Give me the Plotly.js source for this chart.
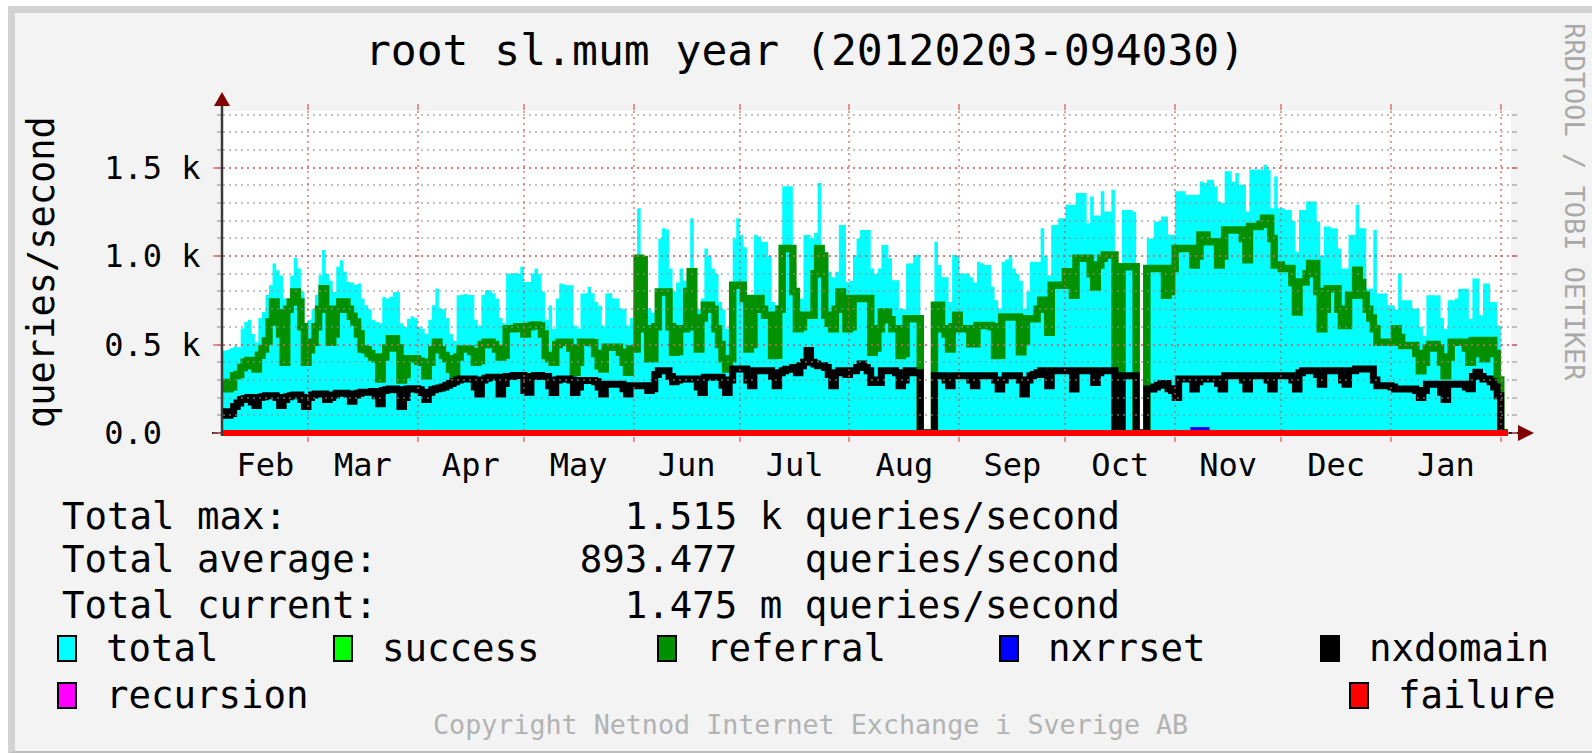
<!DOCTYPE html>
<html>
<head>
<meta charset="utf-8">
<script src="https://cdn.plot.ly/plotly-3.0.1.min.js"></script>
<style>
  html, body { margin: 0; padding: 0; background: #ffffff; }
  #frame { position: absolute; left: 8px; top: 6px; width: 1584px; height: 747px; box-sizing: border-box;
           background: #f3f3f3; border-left: 7px solid #d2d2d2; border-top: 7px solid #d2d2d2; border-bottom: 2px solid #bdbdbd; }
  #chart { position: absolute; left: 0; top: 0; width: 1592px; height: 753px; }
</style>
</head>
<body>
<div id="frame"></div>
<div id="chart"></div>
<script>
// ---------------- data (one value per day, starting 2011-02-05) ----------------
const startDate = '2011-02-05';
const rangeEnd = '2012-02-03 21:36';

const total = [
  466, 470, 480, 490, 485, 590, 627,
  640, 560, 513, 650, 684, 780, 835,
  958, 920, 890, 760, 700, 890, 990,
  930, 800, 560, 640, 700, 780, 892,
  1034, 900, 860, 797, 940, 977, 911,
  854, 850, 840, 845, 760, 722, 700,
  640, 627, 620, 769, 760, 770, 797,
  797, 620, 600, 646, 660, 650, 600,
  589, 560, 640, 722, 816, 703, 700,
  650, 560, 520, 778, 780, 785, 780,
  780, 640, 608, 780, 807, 807, 790,
  760, 650, 620, 901, 900, 905, 900,
  939, 854, 854, 901, 930, 900, 800,
  640, 720, 589, 760, 845, 840, 835,
  835, 608, 589, 788, 790, 826, 790,
  740, 720, 608, 788, 790, 760, 760,
  703, 700, 608, 650, 740, 1271, 854,
  854, 703, 680, 720, 1100, 1157, 1150,
  930, 800, 850, 930, 860, 850, 1214,
  740, 700, 760, 1043, 1000, 930, 900,
  740, 700, 589, 600, 1100, 1214, 1119,
  1050, 665, 700, 1119, 1110, 1081, 1081,
  1000, 740, 720, 760, 1394, 1394, 1394,
  854, 800, 760, 1119, 1119, 1100, 1130,
  1413, 1043, 1000, 911, 880, 911, 1176,
  1176, 854, 860, 1006, 1100, 1148, 1148,
  1148, 930, 900, 930, 1062, 1062, 987,
  864, 864, 703, 700, 958, 960, 1006,
  1006, 0, 0, 0, 0, 1081, 949,
  882, 880, 740, 1006, 1000, 901, 901,
  901, 880, 850, 968, 960, 949, 949,
  826, 750, 703, 968, 980, 1006, 930,
  900, 860, 703, 800, 968, 968, 968,
  1157, 1000, 892, 1176, 1176, 1214, 1214,
  1290, 1290, 1290, 1356, 1356, 1356, 1186,
  1337, 1230, 1230, 1366, 1252, 1252, 1375,
  0, 0, 1261, 1261, 1261, 1250, 0,
  0, 0, 1100, 1100, 1195, 1195, 1224,
  1224, 1120, 1120, 1366, 1366, 1366, 1347,
  1347, 1347, 1347, 1422, 1413, 1432, 1432,
  1394, 1309, 1300, 1479, 1479, 1420, 1470,
  1403, 1403, 1252, 1489, 1489, 1489, 1489,
  1515, 1489, 1271, 1450, 1271, 1271, 1261,
  1261, 1200, 1025, 1261, 1261, 1309, 1309,
  1309, 1195, 1000, 1167, 1167, 1157, 1157,
  1043, 930, 930, 1119, 1119, 1290, 1157,
  1157, 816, 816, 1148, 788, 788, 788,
  722, 722, 700, 901, 750, 750, 750,
  703, 703, 600, 550, 778, 778, 778,
  778, 650, 589, 750, 750, 760, 816,
  816, 816, 645, 873, 873, 665, 845,
  845, 740, 740, 608, 0, 0, 0
];

const referral = [
  286, 250, 260, 324, 330, 370, 400,
  410, 380, 362, 440, 475, 520, 627,
  740, 680, 560, 400, 700, 740, 797,
  740, 600, 400, 470, 513, 600, 700,
  816, 700, 513, 560, 700, 740, 740,
  700, 660, 627, 560, 475, 470, 450,
  430, 419, 305, 430, 480, 532, 532,
  480, 300, 330, 419, 420, 419, 405,
  400, 324, 400, 470, 513, 470, 438,
  420, 360, 324, 430, 475, 475, 475,
  460, 400, 410, 500, 513, 513, 500,
  475, 430, 440, 589, 589, 590, 600,
  600, 560, 600, 608, 610, 605, 560,
  438, 420, 400, 500, 513, 513, 513,
  480, 343, 400, 513, 513, 513, 510,
  450, 380, 362, 485, 485, 485, 485,
  456, 400, 343, 475, 475, 987, 980,
  589, 419, 419, 600, 797, 797, 797,
  600, 456, 460, 589, 589, 800, 911,
  600, 475, 650, 722, 722, 700, 589,
  500, 420, 362, 420, 835, 835, 835,
  760, 475, 500, 760, 760, 700, 665,
  665, 438, 440, 700, 1043, 1043, 1043,
  800, 589, 600, 665, 665, 665, 900,
  1043, 1000, 665, 620, 589, 700, 797,
  760, 589, 600, 760, 760, 760, 760,
  760, 456, 480, 589, 684, 684, 640,
  589, 589, 438, 450, 646, 646, 646,
  646, 0, 0, 0, 0, 722, 722,
  589, 560, 475, 600, 665, 589, 589,
  589, 504, 504, 608, 608, 608, 608,
  600, 438, 440, 655, 655, 655, 655,
  655, 459, 520, 646, 646, 646, 700,
  750, 750, 570, 835, 835, 835, 835,
  911, 911, 778, 987, 987, 987, 987,
  900, 825, 950, 987, 1006, 1006, 1006,
  0, 0, 939, 939, 939, 939, 0,
  0, 0, 930, 930, 930, 930, 930,
  778, 800, 930, 1043, 1043, 1043, 1043,
  1043, 949, 1000, 1119, 1119, 1081, 1081,
  1081, 949, 1000, 1148, 1148, 1148, 1148,
  1148, 1100, 979, 1167, 1167, 1167, 1180,
  1214, 1214, 1100, 949, 949, 930, 930,
  930, 850, 684, 854, 854, 900, 958,
  958, 800, 589, 700, 816, 816, 816,
  700, 608, 608, 778, 778, 920, 850,
  778, 700, 650, 589, 513, 513, 513,
  513, 513, 589, 540, 494, 494, 494,
  494, 450, 352, 400, 480, 500, 500,
  480, 400, 324, 430, 513, 513, 513,
  513, 480, 400, 523, 523, 450, 420,
  523, 523, 450, 300, 0, 0, 0
];

const nxdomain = [
  120, 100, 110, 150, 170, 190, 195,
  200, 175, 155, 200, 205, 210, 210,
  210, 200, 155, 190, 205, 210, 215,
  215, 190, 150, 200, 215, 220, 220,
  220, 190, 200, 215, 225, 225, 225,
  220, 180, 215, 225, 230, 230, 230,
  235, 210, 165, 240, 245, 248, 248,
  245, 150, 200, 248, 250, 250, 245,
  229, 190, 230, 245, 250, 255, 260,
  270, 280, 290, 300, 305, 305, 305,
  305, 260, 220, 300, 310, 315, 315,
  315, 220, 280, 320, 320, 325, 325,
  325, 240, 230, 320, 325, 325, 320,
  320, 267, 229, 300, 305, 305, 305,
  300, 229, 260, 296, 296, 296, 296,
  290, 260, 220, 276, 276, 276, 276,
  276, 250, 220, 267, 267, 267, 267,
  267, 240, 250, 330, 352, 352, 352,
  320, 290, 300, 305, 305, 305, 305,
  305, 260, 229, 315, 315, 315, 315,
  315, 270, 229, 300, 362, 362, 362,
  362, 300, 267, 352, 352, 352, 352,
  352, 320, 267, 340, 352, 360, 360,
  370, 340, 380, 400, 466, 400, 390,
  380, 380, 370, 330, 267, 340, 352,
  352, 330, 352, 352, 370, 390, 370,
  352, 286, 300, 286, 352, 352, 352,
  352, 340, 267, 300, 352, 352, 340,
  340, 0, 0, 0, 0, 324, 324,
  324, 300, 267, 324, 324, 324, 324,
  324, 300, 267, 324, 324, 324, 324,
  324, 300, 248, 300, 324, 324, 324,
  324, 300, 220, 300, 324, 330, 340,
  352, 330, 267, 352, 352, 352, 352,
  352, 352, 248, 352, 352, 352, 352,
  352, 286, 340, 352, 352, 352, 352,
  0, 0, 324, 324, 324, 324, 0,
  0, 0, 248, 248, 260, 270, 280,
  280, 250, 240, 200, 305, 305, 305,
  305, 248, 290, 305, 305, 305, 305,
  305, 280, 248, 324, 324, 324, 324,
  324, 300, 248, 324, 324, 324, 324,
  324, 300, 248, 324, 324, 324, 324,
  324, 300, 248, 340, 352, 352, 352,
  352, 330, 276, 352, 352, 352, 352,
  352, 300, 276, 352, 352, 362, 362,
  362, 362, 362, 300, 267, 267, 267,
  267, 260, 248, 248, 248, 248, 248,
  248, 240, 200, 240, 276, 276, 276,
  276, 230, 190, 276, 276, 276, 276,
  276, 260, 250, 320, 343, 320, 305,
  305, 290, 260, 210, 0, 0, 0
];

const nxrrset = [
  0,0,0,0,0,0,0, 0,0,0,0,0,0,0, 0,0,0,0,0,0,0, 0,0,0,0,0,0,0,
  0,0,0,0,0,0,0, 0,0,0,0,0,0,0, 0,0,0,0,0,0,0, 0,0,0,0,0,0,0,
  0,0,0,0,0,0,0, 0,0,0,0,0,0,0, 0,0,0,0,0,0,0, 0,0,0,0,0,0,0,
  0,0,0,0,0,0,0, 0,0,0,0,0,0,0, 0,0,0,0,0,0,0, 0,0,0,0,0,0,0,
  0,0,0,0,0,0,0, 0,0,0,0,0,0,0, 0,0,0,0,0,0,0, 0,0,0,0,0,0,0,
  0,0,0,0,0,0,0, 0,0,0,0,0,0,0, 0,0,0,0,0,0,0, 0,0,0,0,0,0,0,
  0,0,0,0,0,0,0, 0,0,0,0,0,0,0, 0,0,0,0,0,0,0, 0,0,0,0,0,0,0,
  0,0,0,0,0,0,0, 0,0,0,0,0,0,0, 0,0,0,0,0,0,0, 0,0,0,0,0,0,0,
  0,0,0,0,0,0,0, 0,0,0,0,0,0,0, 0,0,0,0,0,0,0, 0,0,0,0,0,0,0,
  0,0,0,0,0,0,0, 0,0,0,0,0,0,0, 0,0,0,0,0,0,0, 0,20,20,20,20,0,0,
  0,0,0,0,0,0,0, 0,0,0,0,0,0,0, 0,0,0,0,0,0,0, 0,0,0,0,0,0,0,
  0,0,0,0,0,0,0, 0,0,0,0,0,0,0, 0,0,0,0,0,0,0, 0,0,0,0,0,0,0,
  0,0,0,0,0,0,0, 0,0,0,0,0,0,0, 0,0,0,0,0,0,0, 0,0,0,0,0,0,0
];

const failure = [
  0,0,0,0,0,0,0, 0,0,0,0,0,0,0, 0,0,0,0,0,0,0, 0,0,0,0,0,0,0,
  0,0,0,0,0,0,0, 0,0,0,0,0,0,0, 0,0,0,0,0,0,0, 0,0,0,0,0,0,0,
  0,0,0,0,0,0,0, 0,0,0,0,0,0,0, 0,0,0,0,0,0,0, 0,0,0,0,0,0,0,
  0,0,0,0,0,0,0, 0,0,0,0,0,0,0, 0,0,0,0,0,0,0, 0,0,0,0,0,0,0,
  0,0,0,0,0,0,0, 0,0,0,0,0,0,0, 0,0,0,0,0,0,0, 0,0,0,0,0,0,0,
  0,0,0,0,0,0,0, 0,0,0,0,0,0,0, 0,0,0,0,0,0,0, 0,0,0,0,0,0,0,
  0,0,0,0,0,0,0, 0,0,0,0,0,0,0, 0,0,0,0,0,0,0, 0,0,0,0,0,0,0,
  0,0,0,0,0,0,0, 0,0,0,0,0,0,0, 0,0,0,0,0,0,0, 0,0,0,0,0,0,0,
  0,0,0,0,0,0,0, 0,0,0,0,0,0,0, 0,0,0,0,0,0,0, 0,0,0,0,0,0,0,
  0,0,0,0,0,0,0, 0,0,0,0,0,0,0, 0,0,0,0,0,0,0, 0,0,0,0,0,0,0,
  0,0,0,0,0,0,0, 0,0,0,0,0,0,0, 0,0,0,0,0,0,0, 0,0,0,0,0,0,0,
  0,0,0,0,0,0,0, 0,0,0,0,0,0,0, 0,0,0,0,0,0,0, 0,0,0,0,0,0,0,
  0,0,0,0,0,0,0, 0,0,0,0,0,0,0, 0,0,0,0,0,0,0, 0,0,0,0,0,0,0
];

const monthStarts = ['2011-03-01','2011-04-01','2011-05-01','2011-06-01','2011-07-01','2011-08-01',
                     '2011-09-01','2011-10-01','2011-11-01','2011-12-01','2012-01-01','2012-02-01'];
const monthLabels = ['Feb','Mar','Apr','May','Jun','Jul','Aug','Sep','Oct','Nov','Dec','Jan'];

const yTickVals = [0, 500, 1000, 1500];
const yTickText = ['0.0\u00a0\u00a0', '0.5 k', '1.0 k', '1.5 k'];
const yMinorStep = 100;
const yMin = -17;      // a little room below zero so the thick zero-level line is not clipped
const yMax = 1820;

const titleText = 'root sl.mum year (20120203-094030)';
const yTitle = 'queries/second';
const statLabels = ['Total max:', 'Total average:', 'Total current:'];
const statValues = ['1.515', '893.477', '1.475'];
const statUnits  = ['k', ' ', 'm'];
const statUnitText = 'queries/second';
const legendNames  = ['total', 'success', 'referral', 'nxrrset', 'nxdomain', 'recursion', 'failure'];
const legendColors = ['#00ffff', '#00ff00', '#009000', '#0000ff', '#000000', '#ff00ff', '#ff0000'];
const copyrightText = 'Copyright Netnod Internet Exchange i Sverige AB';
const sideText = 'RRDTOOL / TOBI OETIKER';

// ---------------- helpers ----------------
function addDays(s, n) {
  const d = new Date(s + 'T00:00:00Z');
  d.setUTCDate(d.getUTCDate() + n);
  return d.toISOString().slice(0, 10);
}
const days = total.map((_, i) => addDays(startDate, i));
const toMs = s => new Date(s.replace(' ', 'T') + (s.length > 10 ? ':00Z' : 'T00:00:00Z')).getTime();
const bounds = [startDate].concat(monthStarts);
const labelPos = monthLabels.map((_, i) => {
  const m = (toMs(bounds[i]) + toMs(bounds[i + 1])) / 2;
  return new Date(m).toISOString().replace('T', ' ').slice(0, 19);
});

// layout geometry in pixels
const L = 223, T = 111, W = 1288, H = 325;
const px = p => (p - L) / W;
const py = p => (T + H - p) / H;
const NB = '\u00a0';
const FONT = 'DejaVu Sans Mono, monospace';

// ---------------- traces ----------------
const traces = [
  { x: days, y: total, type: 'scatter', mode: 'lines', line: { shape: 'hv', width: 0, color: '#00ffff' },
    fill: 'tozeroy', fillcolor: '#00ffff', hoverinfo: 'skip' },
  { x: days, y: referral, type: 'scatter', mode: 'lines', line: { shape: 'hv', width: 7.5, color: '#009000' }, hoverinfo: 'skip' },
  { x: days, y: nxrrset, type: 'scatter', mode: 'lines', line: { shape: 'hv', width: 5, color: '#0000ff' }, hoverinfo: 'skip' },
  { x: days, y: nxdomain, type: 'scatter', mode: 'lines', line: { shape: 'hv', width: 7, color: '#000000' }, hoverinfo: 'skip' },
  // failure is drawn on the overlay subplot so it lies above the grid, as in RRDtool
  { x: days, y: failure, type: 'scatter', mode: 'lines', xaxis: 'x2', yaxis: 'y2',
    line: { shape: 'hv', width: 6, color: '#ff0000' }, hoverinfo: 'skip' }
];

// ---------------- annotations ----------------
const ann = [];
ann.push({ text: yTitle, xref: 'paper', yref: 'paper', x: px(41), y: py(272), textangle: -90,
           showarrow: false, xanchor: 'center', yanchor: 'middle', font: { family: FONT, size: 37, color: '#000' } });
ann.push({ text: sideText, xref: 'paper', yref: 'paper', x: px(1575), y: py(202), textangle: 90,
           showarrow: false, xanchor: 'center', yanchor: 'middle', borderpad: 0,
           font: { family: FONT, size: 27, color: '#a9a9a9' } });
const statY = [516, 559, 605];
statLabels.forEach((lab, i) => {
  const s = (lab + NB.repeat(23 - lab.length)) + statValues[i].padStart(7, NB) + NB +
            statUnits[i].replace(' ', NB) + NB + statUnitText;
  ann.push({ text: s.replace(/ /g, NB), xref: 'paper', yref: 'paper', x: px(60), y: py(statY[i]),
             showarrow: false, xanchor: 'left', yanchor: 'middle', font: { family: FONT, size: 37.4, color: '#000' } });
});
const legTextX = [107, 383, 707, 1049, 1370, 107, 1399];
const legRowY  = [648, 648, 648, 648, 648, 695, 695];
const shapes = [];
// white canvas behind the data
shapes.push({ type: 'rect', xref: 'paper', yref: 'paper', x0: 0, x1: 1, y0: py(433), y1: 1, layer: 'below',
              fillcolor: '#ffffff', line: { width: 0 } });
legendNames.forEach((n, i) => {
  ann.push({ text: n, xref: 'paper', yref: 'paper', x: px(legTextX[i] - 3), y: py(legRowY[i]),
             showarrow: false, xanchor: 'left', yanchor: 'middle', font: { family: FONT, size: 37.4, color: '#000' } });
  const sx = legTextX[i] - 49;
  shapes.push({ type: 'rect', xref: 'paper', yref: 'paper', x0: px(sx), x1: px(sx + 18),
                y0: py(legRowY[i] + 13), y1: py(legRowY[i] - 12), fillcolor: legendColors[i],
                line: { color: '#000000', width: 2 }, layer: 'above' });
});
ann.push({ text: copyrightText, xref: 'paper', yref: 'paper', x: px(810), y: py(724), showarrow: false,
           xanchor: 'center', yanchor: 'middle', font: { family: FONT, size: 26.7, color: '#b2b2b2' } });

// axis line extensions and arrows (RRDtool style)
shapes.push({ type: 'line', xref: 'paper', yref: 'paper', x0: px(212), x1: px(1519), y0: py(433), y1: py(433),
              layer: 'below', line: { color: '#222222', width: 2 } });
shapes.push({ type: 'line', xref: 'paper', yref: 'paper', x0: px(222), x1: px(222), y0: py(436), y1: py(104),
              layer: 'above', line: { color: '#3a3a3a', width: 2.5 } });
shapes.push({ type: 'path', xref: 'paper', yref: 'paper', layer: 'above', fillcolor: '#7f0000', line: { width: 0 },
              path: `M ${px(222)} ${py(92)} L ${px(214)} ${py(106)} L ${px(230)} ${py(106)} Z` });
shapes.push({ type: 'path', xref: 'paper', yref: 'paper', layer: 'above', fillcolor: '#7f0000', line: { width: 0 },
              path: `M ${px(1534)} ${py(433)} L ${px(1518)} ${py(425)} L ${px(1518)} ${py(441)} Z` });

const MGRID = 'rgba(222,80,80,0.6)';
const GRID = 'rgba(143,143,143,0.55)';
const DASH = '2px,4px';

const layout = {
  width: 1592, height: 753,
  margin: { l: L, r: 1592 - L - W, t: T, b: 753 - T - H, pad: 0 },
  paper_bgcolor: 'rgba(0,0,0,0)',
  plot_bgcolor: 'rgba(0,0,0,0)',
  showlegend: false,
  hovermode: false,
  font: { family: FONT, color: '#000' },
  title: { text: titleText, xref: 'container', yref: 'container', x: 805 / 1592, y: 1 - 50 / 753,
           xanchor: 'center', yanchor: 'middle', font: { family: FONT, size: 43, color: '#000' } },
  xaxis: {
    type: 'date', range: [startDate, rangeEnd], fixedrange: true,
    tickmode: 'array', tickvals: labelPos, ticktext: monthLabels, ticks: '',
    tickfont: { family: FONT, size: 32, color: '#000' }, ticklabelstandoff: 7,
    showgrid: false, zeroline: false, showline: false,
    minor: { tickmode: 'array', tickvals: monthStarts, ticks: 'outside', ticklen: 5, tickwidth: 2,
             tickcolor: MGRID, showgrid: false }
  },
  yaxis: {
    range: [yMin, yMax], fixedrange: true,
    tickmode: 'array', tickvals: yTickVals, ticktext: yTickText,
    ticks: 'outside', ticklen: 9, tickwidth: 2, tickcolor: MGRID,
    tickfont: { family: FONT, size: 32, color: '#000' }, ticklabelstandoff: 6,
    showgrid: false, zeroline: false, showline: false,
    minor: { dtick: yMinorStep, ticks: 'outside', ticklen: 5, tickwidth: 2, tickcolor: GRID, showgrid: false }
  },
  xaxis2: {
    type: 'date', range: [startDate, rangeEnd], anchor: 'y2', domain: [0, 1], side: 'top', fixedrange: true,
    tickmode: 'array', tickvals: monthStarts, showticklabels: false,
    ticks: 'outside', ticklen: 6, tickwidth: 2, tickcolor: MGRID,
    showgrid: true, gridcolor: MGRID, gridwidth: 2, griddash: DASH, zeroline: false, showline: false
  },
  yaxis2: {
    range: [yMin, yMax], anchor: 'x2', domain: [0, 1], side: 'right', fixedrange: true,
    tickmode: 'array', tickvals: yTickVals, showticklabels: false,
    ticks: 'outside', ticklen: 5, tickwidth: 2, tickcolor: MGRID,
    showgrid: true, gridcolor: MGRID, gridwidth: 2, griddash: DASH, zeroline: false, showline: false,
    minor: { dtick: yMinorStep, showgrid: true, gridcolor: GRID, gridwidth: 2, griddash: DASH,
             ticks: 'outside', ticklen: 5, tickwidth: 2, tickcolor: GRID }
  },
  annotations: ann,
  shapes: shapes
};

Plotly.newPlot('chart', traces, layout, { staticPlot: true, displayModeBar: false });
</script>
</body>
</html>
